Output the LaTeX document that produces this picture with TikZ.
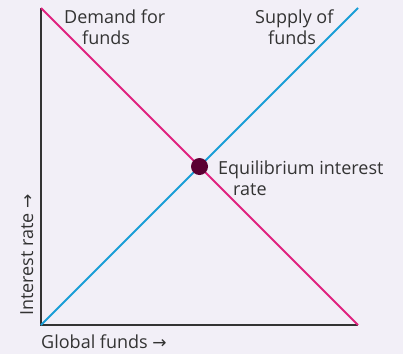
\documentclass[tikz,border=0pt]{standalone}
\usepackage{fontspec}
\setmainfont{Open Sans}
\newfontfamily\arrowfont{DejaVu Sans}
\newcommand{\rarr}{{\arrowfont\fontsize{17}{17}\selectfont →}}
\usetikzlibrary{calc}
\definecolor{bg}{HTML}{F2EFF7}
\definecolor{axisc}{HTML}{333333}
\definecolor{demandc}{HTML}{E0227F}
\definecolor{supplyc}{HTML}{1A9ED6}
\definecolor{dotc}{HTML}{5A0032}
\definecolor{txt}{HTML}{333333}
\begin{document}
\begin{tikzpicture}[x=1pt,y=-1pt,
  lbl/.style={font=\fontsize{18}{20.5}\selectfont, text=txt, inner sep=0pt},
  axisline/.style={draw=axisc, line width=1.4pt},
  curve/.style={line width=2pt}]
\fill[bg] (0,0) rectangle (403,354);
\useasboundingbox (0,0) rectangle (403,354);
\coordinate (O) at (41,325);
\coordinate (T) at (41,8);
\coordinate (R) at (358,325);
\coordinate (TR) at (358,8);
\draw[axisline] (T) -- (O) -- (R);
\draw[curve, demandc] (T) -- (R);
\draw[curve, supplyc] (O) -- (TR);
\node[circle, fill=dotc, minimum size=17pt, inner sep=0pt] (eq) at (199.5,166.5) {};
\node[lbl, align=left, anchor=north west] (dem) at (64,10) {Demand for\\\hspace*{18pt}funds};
\node[lbl, align=left, anchor=north west] (sup) at (255,10) {Supply of\\\hspace*{13pt}funds};
\node[lbl, align=left, anchor=north west] (eql) at (218,161) {Equilibrium interest\\\hspace*{15pt}rate};
\node[lbl, anchor=base west, rotate=90] (yl) at (33,316) {Interest rate \rarr};
\node[lbl, anchor=base west] (xl) at (41,348) {Global funds \rarr};
\end{tikzpicture}
\end{document}
